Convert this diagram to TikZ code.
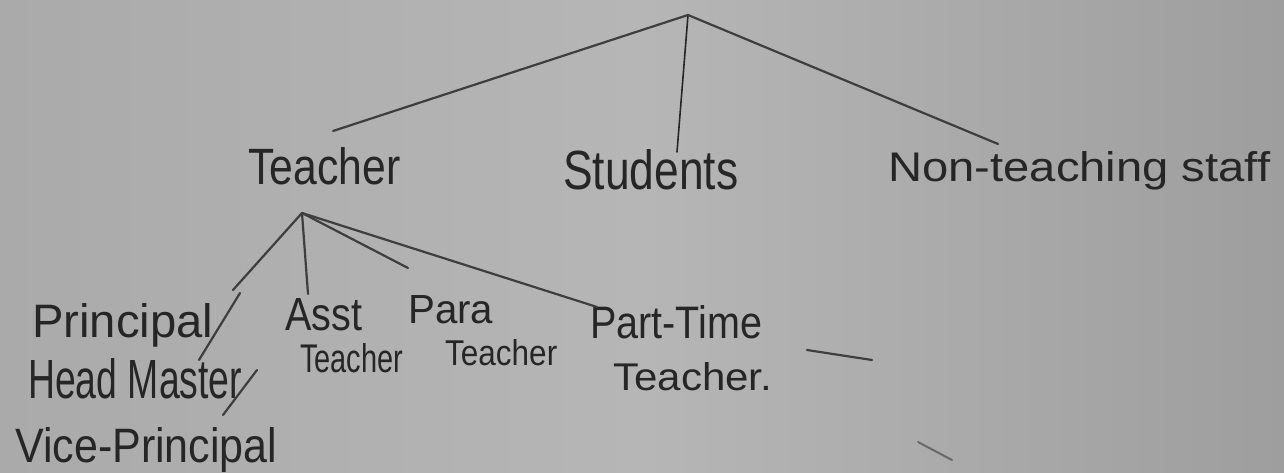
\documentclass[tikz,border=0pt]{standalone}
\usepackage{fontspec}
\setmainfont{Liberation Sans}
\usepackage{graphicx}
\definecolor{paper}{RGB}{170,170,170}
\definecolor{paperL}{RGB}{170,170,170}
\definecolor{paperM}{RGB}{182,182,182}
\definecolor{paperR}{RGB}{158,158,158}
\definecolor{ink}{RGB}{38,38,38}
\definecolor{lin}{RGB}{62,62,62}
\newcommand{\hwt}[3]{\resizebox{#1pt}{#2pt}{#3}}
\tikzset{
  hw/.style={anchor=base west,inner sep=0pt,text=ink},
  br/.style={draw=lin,line width=2.2pt,line cap=round},
  mk/.style={draw=lin,line width=2.2pt,line cap=round},
}
\begin{document}
\begin{tikzpicture}[x=1pt,y=-1pt]
\shade[left color=paperL,right color=paperR,middle color=paperM] (0,0) rectangle (1284,473);
\useasboundingbox (0,0) rectangle (1284,473);
% labels
\node[hw] (teacher) at (248,185) {\hwt{152}{37}{Teacher}};
\node[hw] (students) at (563,190) {\hwt{175}{40}{Students}};
\node[hw] (nonteach) at (888,182) {\hwt{382}{30}{Non-teaching staff}};
\node[hw] (principal) at (32,337) {\hwt{181}{34}{Principal}};
\node[hw] (headm) at (28,398) {\hwt{214}{40}{Head Master}};
\node[hw] (vice) at (15,462) {\hwt{262}{35}{Vice-Principal}};
\node[hw] (asst) at (285,330) {\hwt{77}{32}{Asst}};
\node[hw] (asstt) at (300,372) {\hwt{103}{29}{Teacher}};
\node[hw] (para) at (408,323) {\hwt{85}{28}{Para}};
\node[hw] (parat) at (445,365) {\hwt{112}{26}{Teacher}};
\node[hw] (part) at (590,338) {\hwt{172}{33}{Part-Time}};
\node[hw] (partt) at (613,390) {\hwt{159}{28}{Teacher.}};
% tree points
\coordinate (root) at (688,15);
\coordinate (tch) at (302,213);
\coordinate (eT) at (333,131);
\coordinate (eS) at (677,152);
\coordinate (eN) at (998,144);
\coordinate (eP) at (233,290);
\coordinate (eA) at (308,294);
\coordinate (ePa) at (408,268);
\coordinate (ePt) at (597,307);
\draw[br] (root) -- (eT);
\draw[br,line width=1.6pt,draw=ink] (root) -- (eS);
\draw[br] (root) -- (eN);
\draw[br] (tch) -- (eP);
\draw[br] (tch) -- (eA);
\draw[br] (tch) -- (ePa);
\draw[br] (tch) -- (ePt);
% slashes
\coordinate (s1a) at (240,293); \coordinate (s1b) at (199,360);
\coordinate (s2a) at (257,370); \coordinate (s2b) at (223,415);
\draw[mk] (s1a) -- (s1b);
\draw[mk] (s2a) -- (s2b);
% stray marks
\coordinate (d1) at (807,350); \coordinate (d2) at (872,360);
\draw[mk] (d1) -- (d2);
\coordinate (k1) at (918,442); \coordinate (k2) at (952,460);
\draw[draw=lin!60!paper,line width=2pt,line cap=round] (k1) -- (k2);
\end{tikzpicture}
\end{document}
